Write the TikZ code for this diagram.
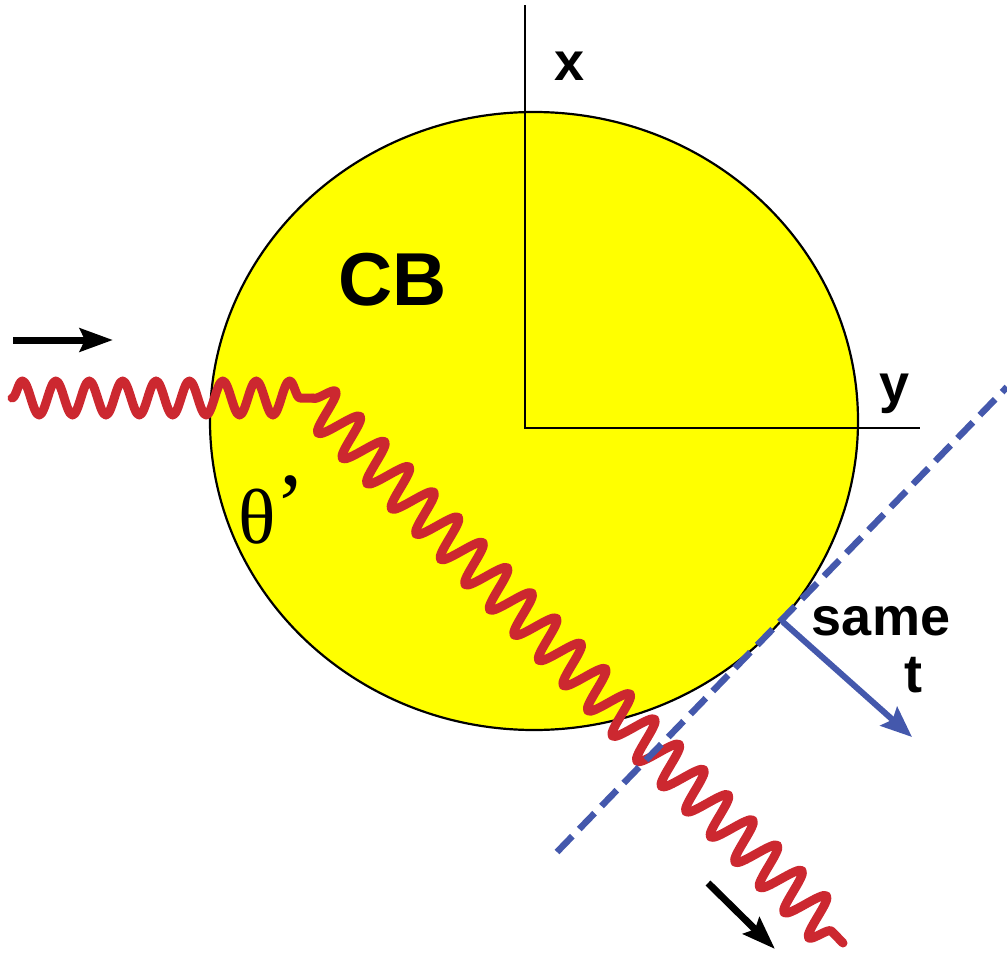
\documentclass[tikz,border=0pt]{standalone}
\usepackage{fontspec}
\setmainfont{Liberation Sans}
\newfontfamily\serifTimes{Liberation Serif}
\usetikzlibrary{arrows.meta,decorations.pathmorphing}
\definecolor{wavered}{RGB}{204,40,48}
\definecolor{lineblue}{RGB}{68,88,172}
\definecolor{cbyellow}{RGB}{255,255,0}
\begin{document}
\begin{tikzpicture}[x=1pt,y=-1pt,
  lbl/.style={font=\fontsize{54}{54}\bfseries\selectfont, inner sep=0pt, anchor=base},
  axisline/.style={line width=2.2pt, black},
  wave/.style={line width=9pt, wavered, line cap=round, line join=round, decorate},
  blackarrow/.style={line width=7pt, black, -{Stealth[length=33pt,width=23pt,inset=5pt]}},
  bluearrow/.style={line width=6pt, lineblue, -{Stealth[length=31pt,width=25pt,inset=5pt]}},
  bluedash/.style={line width=6.5pt, lineblue, dash pattern=on 22pt off 10pt}]
\useasboundingbox (0,0) rectangle (1007,953);
% body
\draw[line width=2.2pt, fill=cbyellow] (534,421) ellipse [x radius=324, y radius=309];
% axes
\coordinate (O) at (525,428);
\coordinate (xtop) at (525,5);
\coordinate (yend) at (920,428);
\draw[axisline] (xtop) -- (O) -- (yend);
% labels
\node[lbl] (xl) at (570,80) {x};
\node[lbl] (yl) at (895,402) {y};
\node[lbl] (same) at (881,635) {same};
\node[lbl] (tl) at (913,692) {t};
\node[font=\fontsize{75}{75}\bfseries\selectfont, inner sep=0pt, anchor=base] (cb) at (393,305) {CB};
\node[font=\serifTimes\fontsize{78}{78}\selectfont, inner sep=0pt, anchor=base] (th) at (272,543) {θ\raisebox{8pt}{\fontsize{90}{90}\selectfont ’}};
% wave
\coordinate (w0) at (12,398);
\coordinate (w1) at (313,398);
\coordinate (w2) at (843,943);
\draw[wave, decoration={snake, amplitude=17pt, segment length=33.4pt}] (w0) -- (w1);
\draw[wave, decoration={snake, amplitude=21pt, segment length=35.2pt}] (w1) -- (w2);
% dashed line
\coordinate (d0) at (557,852);
\coordinate (d1) at (1007,387);
\draw[bluedash] (d0) -- (d1);
% blue arrow
\coordinate (b0) at (783,622);
\coordinate (b1) at (912,737);
\draw[bluearrow] (b0) -- (b1);
% black arrows
\coordinate (a0) at (13,340);
\coordinate (a1) at (113,340);
\draw[blackarrow] (a0) -- (a1);
\coordinate (c0) at (708,883);
\coordinate (c1) at (775,949);
\draw[blackarrow] (c0) -- (c1);
\end{tikzpicture}
\end{document}
